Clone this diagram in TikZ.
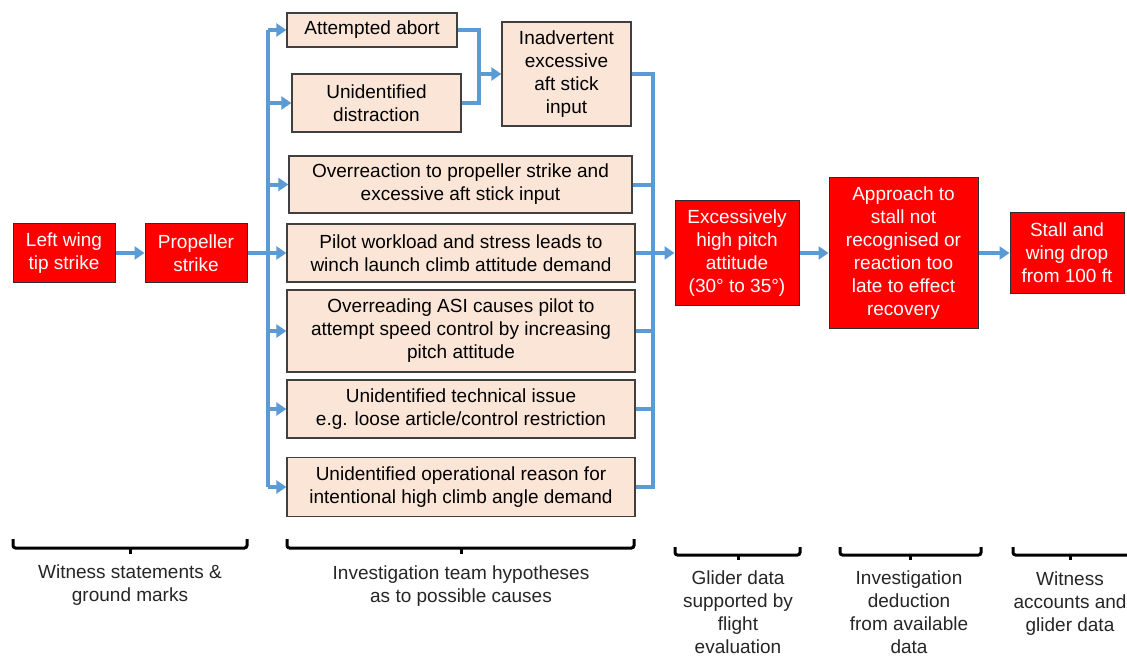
\documentclass[tikz,border=0pt]{standalone}
\usepackage{fontspec}
\setmainfont{Liberation Sans}
\usetikzlibrary{arrows.meta}
\definecolor{flowblue}{RGB}{91,155,213}
\definecolor{peach}{RGB}{251,229,214}
\definecolor{boxedge}{RGB}{64,64,64}
\definecolor{labelgrey}{RGB}{38,38,38}
\begin{document}
\begin{tikzpicture}[x=1pt,y=-1pt,
  every node/.style={font=\fontsize{19}{23}\selectfont, align=center, inner sep=0pt},
  hyp/.style={draw=boxedge, line width=1.3pt, fill=peach, text=black},
  evt/.style={draw=boxedge!70!black, line width=1pt, fill=red, text=white},
  flow/.style={draw=flowblue, line width=4pt},
  arr/.style={flow, -{Triangle[length=10pt,width=13pt]}},
  bracebar/.style={draw=black, line width=3pt, rounded corners=2.5pt},
  lab/.style={text=labelgrey}]
\useasboundingbox (0,0) rectangle (1127,657);
\fill[white] (0,0) rectangle (1127,657);

% event boxes
\node[evt, minimum width=102pt, minimum height=59pt] (lw) at (64,253) {Left wing\\tip strike};
\node[evt, minimum width=102pt, minimum height=59pt] (ps) at (196,253) {Propeller\\strike};
\node[evt, minimum width=124pt, minimum height=105pt] (ex) at (737,253) {Excessively\\high pitch\\attitude\\(30° to 35°)};
\node[evt, minimum width=149pt, minimum height=151pt] (ap) at (903.5,253) {Approach to\\stall not\\recognised or\\reaction too\\late to effect\\recovery};
\node[evt, minimum width=114pt, minimum height=81pt] (st) at (1067,253) {Stall and\\wing drop\\from 100 ft};

% hypothesis boxes
\node[hyp, minimum width=170pt, minimum height=34pt] (ab) at (372,30) {Attempted abort};
\node[hyp, minimum width=169pt, minimum height=58pt] (di) at (376.5,103) {Unidentified\\distraction};
\node[hyp, minimum width=129pt, minimum height=104pt] (ia) at (566.5,74) {Inadvertent\\excessive\\aft stick\\input};
\node[hyp, minimum width=343pt, minimum height=57pt] (ov) at (460.5,184.5) {Overreaction to propeller strike and\\excessive aft stick input};
\node[hyp, minimum width=348pt, minimum height=58pt] (pw) at (461,253) {Pilot workload and stress leads to\\winch launch climb attitude demand};
\node[hyp, minimum width=348pt, minimum height=82pt] (as) at (461,331) {Overreading ASI causes pilot to\\attempt speed control by increasing\\pitch attitude};
\node[hyp, minimum width=348pt, minimum height=58pt] (ti) at (461,409) {Unidentified technical issue\\e.g. loose article/control restriction};
\node[hyp, minimum width=348pt, minimum height=59pt] (op) at (461,487) {Unidentified operational reason for\\intentional high climb angle demand};

% buses
\coordinate (lb) at (268,253);
\coordinate (j) at (479,74);
\coordinate (rb) at (653,253);

\draw[arr] (lw) -- (ps);
\draw[arr] (ps.east) -- (pw.west);
\draw[flow] (ab.west -| lb) -- (op.west -| lb);
\foreach \n in {ab,di,ov,as,ti,op}{
  \draw[arr] (\n.west -| lb) -- (\n.west);
}
\draw[flow] (ab.east) -- (ab.east -| j) -- (di.east -| j) -- (di.east);
\draw[arr] (j) -- (ia.west);
\draw[flow] (ia.east) -- (ia.east -| rb) -- (op.east -| rb) -- (op.east);
\foreach \n in {ov,pw,as,ti}{
  \draw[flow] (\n.east) -- (\n.east -| rb);
}
\draw[arr] (rb) -- (ex.west);
\draw[arr] (ex) -- (ap);
\draw[arr] (ap) -- (st);

% bottom brackets
\draw[bracebar] (13,539) -- (13,548) -- (247,548) -- (247,539);
\draw[bracebar] (130,547) -- (130,554);
\draw[bracebar] (287,539) -- (287,548) -- (634,548) -- (634,539);
\draw[bracebar] (461,547) -- (461,554);
\draw[bracebar] (675,547) -- (675,555) -- (800,555) -- (800,547);
\draw[bracebar] (738,554) -- (738,560);
\draw[bracebar] (840,547) -- (840,555) -- (981,555) -- (981,547);
\draw[bracebar] (910,554) -- (910,560);
\draw[bracebar] (1013,547) -- (1013,555) -- (1129,555);
\draw[bracebar] (1070,554) -- (1070,560);

% bottom labels
\node[lab] (l1) at (130,585) {Witness statements \&\\ground marks};
\node[lab] (l2) at (461,586) {Investigation team hypotheses\\as to possible causes};
\node[lab] (l3) at (738,612) {Glider data\\supported by\\flight\\evaluation};
\node[lab] (l4) at (909,612) {Investigation\\deduction\\from available\\data};
\node[lab] (l5) at (1070,604) {Witness\\accounts and\\glider data};
\end{tikzpicture}
\end{document}
